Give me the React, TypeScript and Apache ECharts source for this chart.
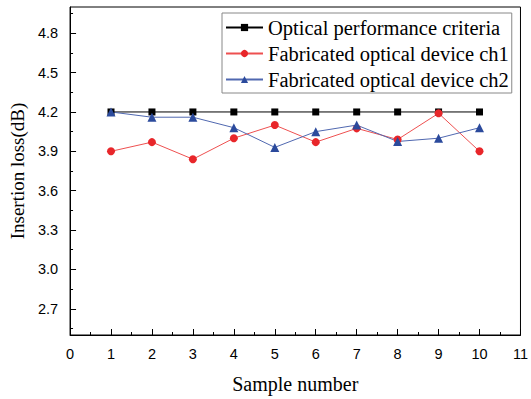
import React, { useEffect, useRef } from "react";
import * as echarts from "echarts";

const samples = [1, 2, 3, 4, 5, 6, 7, 8, 9, 10];
const criteria = [4.2, 4.2, 4.2, 4.2, 4.2, 4.2, 4.2, 4.2, 4.2, 4.2];
const ch1 = [3.9, 3.97, 3.84, 4.0, 4.1, 3.97, 4.075, 3.99, 4.19, 3.9];
const ch2 = [4.2, 4.16, 4.16, 4.08, 3.93, 4.05, 4.1, 3.975, 4.0, 4.08];
const yMajorTicks = [2.7, 3.0, 3.3, 3.6, 3.9, 4.2, 4.5, 4.8];
const yMinorTicks = [2.55, 2.85, 3.15, 3.45, 3.75, 4.05, 4.35, 4.65, 4.95];
const seriesNames = [
  "Optical performance criteria",
  "Fabricated optical device ch1",
  "Fabricated optical device ch2",
];

export default function App() {
  const ref = useRef<HTMLDivElement>(null);
  useEffect(() => {
    if (!ref.current) return;
    const chart = echarts.init(ref.current, undefined, { renderer: "svg" });
    const pair = (ys: number[]) => samples.map((x, i) => [x, ys[i]]);
    const serif = "'Liberation Serif', 'Times New Roman', serif";
    const sans = "'Liberation Sans', Arial, sans-serif";
    chart.setOption({
      animation: false,
      backgroundColor: "#fff",
      grid: {
        left: 68,
        right: 8,
        top: 7,
        bottom: 60,
        show: true,
        borderColor: "#000",
        borderWidth: 1,
        backgroundColor: "transparent",
      },
      legend: {
        left: 222,
        top: 13,
        orient: "vertical",
        data: seriesNames,
        itemWidth: 37,
        itemHeight: 9,
        itemGap: 5,
        padding: [4, 3, 3, 3],
        borderColor: "#888",
        borderWidth: 1,
        textStyle: { fontFamily: serif, fontSize: 20.5, color: "#000" },
      },
      xAxis: {
        type: "value",
        min: 0,
        max: 11,
        interval: 1,
        name: "Sample number",
        nameLocation: "middle",
        nameGap: 39,
        nameTextStyle: { fontFamily: serif, fontSize: 20, color: "#000" },
        axisLine: { lineStyle: { color: "#000", width: 1 } },
        axisTick: { inside: true, length: 6, lineStyle: { color: "#000" } },
        minorTick: { show: true, splitNumber: 2, length: 3, lineStyle: { color: "#000" } },
        axisLabel: { fontFamily: sans, fontSize: 14.5, color: "#000", margin: 11 },
        splitLine: { show: false },
      },
      yAxis: [
        {
          type: "value",
          min: 2.5,
          max: 5.0,
          name: "Insertion loss(dB)",
          nameLocation: "middle",
          nameGap: 36,
          nameTextStyle: { fontFamily: serif, fontSize: 19, color: "#000" },
          axisLine: { show: true, lineStyle: { color: "#000", width: 1 } },
          axisTick: {
            inside: true,
            length: 6,
            customValues: yMajorTicks,
            lineStyle: { color: "#000" },
          },
          axisLabel: {
            fontFamily: sans,
            fontSize: 14.5,
            color: "#000",
            margin: 12,
            customValues: yMajorTicks,
            formatter: (v: number) => v.toFixed(1),
          },
          splitLine: { show: false },
        },
        {
          type: "value",
          position: "left",
          min: 2.5,
          max: 5.0,
          axisLine: { show: false },
          axisTick: {
            inside: true,
            length: 3,
            customValues: yMinorTicks,
            lineStyle: { color: "#000" },
          },
          axisLabel: { show: false },
          splitLine: { show: false },
        },
      ],
      series: [
        {
          name: seriesNames[0],
          type: "line",
          data: pair(criteria),
          symbol: "rect",
          symbolSize: 7,
          itemStyle: { color: "#000" },
          lineStyle: { color: "#000", width: 1 },
        },
        {
          name: seriesNames[1],
          type: "line",
          data: pair(ch1),
          symbol: "circle",
          symbolSize: 8,
          itemStyle: { color: "#e8262a" },
          lineStyle: { color: "#ee5050", width: 1 },
        },
        {
          name: seriesNames[2],
          type: "line",
          data: pair(ch2),
          symbol: "triangle",
          symbolSize: 9,
          itemStyle: { color: "#2b4a9c" },
          lineStyle: { color: "#5068b0", width: 1 },
        },
      ],
    });
    return () => chart.dispose();
  }, []);
  return (
    <div
      ref={ref}
      style={{ position: "absolute", left: 0, top: 0, width: 531, height: 399 }}
    />
  );
}
